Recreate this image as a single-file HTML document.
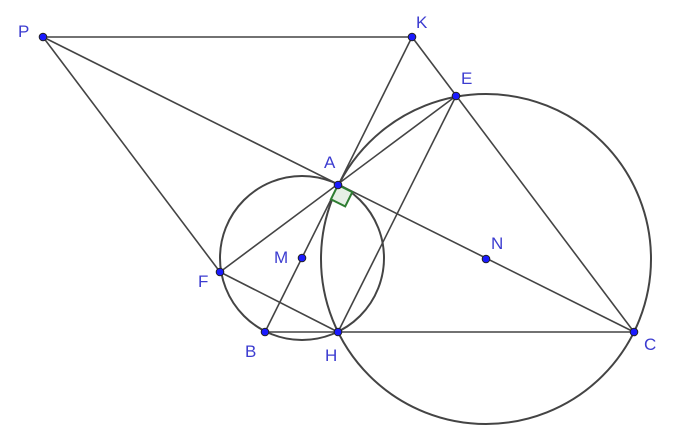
<!DOCTYPE html>
<html><head><meta charset="utf-8"><style>
html,body{margin:0;padding:0;background:#fff;}
svg{display:block;}
text{font-family:"Liberation Sans",sans-serif;font-size:17px;fill:#3c3cd0;}
</style></head><body>
<svg width="675" height="440" viewBox="0 0 675 440" xmlns="http://www.w3.org/2000/svg">
<g fill="none" stroke="#444" stroke-width="2">
<circle cx="302" cy="258" r="82"/>
<circle cx="486" cy="259" r="165"/>
</g>
<g stroke="#444" stroke-width="1.6">
<line x1="43" y1="37" x2="412" y2="37"/>
<line x1="412" y1="37" x2="634" y2="332"/>
<line x1="43" y1="37" x2="634" y2="332"/>
<line x1="43" y1="37" x2="220" y2="272"/>
<line x1="220" y1="272" x2="338" y2="332"/>
<line x1="220" y1="272" x2="456" y2="96"/>
<line x1="265" y1="332" x2="412" y2="37"/>
<line x1="456" y1="96" x2="338" y2="332"/>
<line x1="265" y1="332" x2="634" y2="332"/>
</g>
<polygon points="338,185 330.9,199.3 345.2,206.4 352.3,192.1" fill="#e6efe6" stroke="#2e7d32" stroke-width="2"/>
<g fill="#1a1aff" stroke="#222" stroke-width="1">
<circle cx="43" cy="37" r="3.8"/>
<circle cx="412" cy="37" r="3.8"/>
<circle cx="456" cy="96" r="3.8"/>
<circle cx="338" cy="185" r="3.8"/>
<circle cx="302" cy="258" r="3.8"/>
<circle cx="486" cy="259" r="3.8"/>
<circle cx="220" cy="272" r="3.8"/>
<circle cx="265" cy="332" r="3.8"/>
<circle cx="338" cy="332" r="3.8"/>
<circle cx="634" cy="332" r="3.8"/>
</g>
<text x="18" y="37">P</text>
<text x="416" y="28">K</text>
<text x="461" y="84">E</text>
<text x="324" y="168">A</text>
<text x="274" y="263">M</text>
<text x="491" y="249">N</text>
<text x="198" y="287">F</text>
<text x="245" y="357">B</text>
<text x="325" y="361">H</text>
<text x="644" y="350">C</text>
</svg>
</body></html>
